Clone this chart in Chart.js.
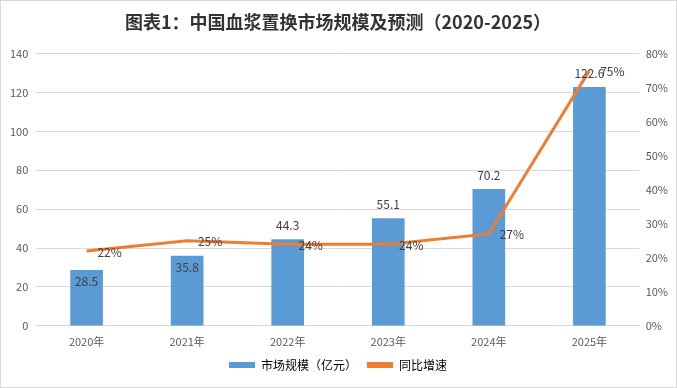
<!DOCTYPE html>
<html>
<head>
<meta charset="utf-8">
<script src="https://cdn.jsdelivr.net/npm/chart.js@4.4.0/dist/chart.umd.min.js"></script>
<style>
  html, body { margin: 0; padding: 0; background: #fff; }
  #wrap { width: 675px; height: 386px; border: 1px solid #d9d9d9; }
</style>
</head>
<body>
<div id="wrap"><canvas id="myChart" width="675" height="386"></canvas></div>
<script>
var years = ['2020年', '2021年', '2022年', '2023年', '2024年', '2025年'];
var marketSize = [28.5, 35.8, 44.3, 55.1, 70.2, 122.6];
var growthRate = [0.22, 0.25, 0.24, 0.24, 0.27, 0.75];
var growthLabels = ['22%', '25%', '24%', '24%', '27%', '75%'];

var fontFamily = '"Noto Sans CJK SC", "Noto Sans", sans-serif';

// label offsets (pixels) -- bars: first two inside the bar
var barLabelDy = [11, 11, -14, -14, -14, -14];

var labelPlugin = {
    id: 'labels',
    afterDatasetsDraw: function(chart) {
        var c = chart.ctx;
        c.save();
        c.font = '12px ' + fontFamily;
        c.fillStyle = '#404040';
        c.textAlign = 'center';
        c.textBaseline = 'middle';
        var bars = chart.getDatasetMeta(0).data;
        bars.forEach(function(b, i) {
            c.fillText(marketSize[i].toFixed(1), b.x, b.y + barLabelDy[i]);
        });
        var pts = chart.getDatasetMeta(1).data;
        pts.forEach(function(p, i) {
            c.fillText(growthLabels[i], p.x + 23, p.y + 1);
        });
        c.restore();
    }
};

var ctx = document.getElementById('myChart').getContext('2d');
var myChart = new Chart(ctx, {
    type: 'bar',
    data: {
        labels: years,
        datasets: [
            {
                label: '市场规模（亿元）',
                data: marketSize,
                backgroundColor: '#5b9bd5',
                borderWidth: 0,
                barThickness: 32,
                yAxisID: 'y',
                order: 2
            },
            {
                type: 'line',
                label: '同比增速',
                data: growthRate,
                borderColor: '#ed7d31',
                backgroundColor: '#ed7d31',
                borderWidth: 3,
                pointRadius: 0,
                tension: 0,
                fill: false,
                yAxisID: 'y1',
                order: 1
            }
        ]
    },
    options: {
        responsive: false,
        animation: false,
        layout: { padding: { left: 1, right: 2, top: 0, bottom: 6 } },
        plugins: {
            title: {
                display: true,
                text: '图表1：中国血浆置换市场规模及预测（2020-2025）',
                color: '#333333',
                font: { family: fontFamily, size: 18, weight: 'bold' },
                padding: { top: 10, bottom: 21 }
            },
            legend: {
                position: 'bottom',
                labels: {
                    color: '#595959',
                    font: { family: fontFamily, size: 12 },
                    boxWidth: 26,
                    boxHeight: 6,
                    padding: 10,
                    generateLabels: function(chart) {
                        return [
                            { text: '市场规模（亿元）', fillStyle: '#5b9bd5', strokeStyle: '#5b9bd5', lineWidth: 0, datasetIndex: 0 },
                            { text: '同比增速', fillStyle: '#ed7d31', strokeStyle: '#ed7d31', lineWidth: 0, datasetIndex: 1 }
                        ];
                    }
                }
            },
            tooltip: { enabled: false }
        },
        scales: {
            x: {
                grid: { display: false },
                border: { color: '#d9d9d9' },
                ticks: { color: '#595959', font: { family: fontFamily, size: 11 }, padding: 1 }
            },
            y: {
                position: 'left',
                min: 0,
                max: 140,
                ticks: { stepSize: 20, color: '#595959', font: { family: fontFamily, size: 11 }, padding: 8 },
                grid: { color: '#d9d9d9', drawTicks: false },
                border: { display: false }
            },
            y1: {
                position: 'right',
                min: 0,
                max: 0.8,
                ticks: {
                    stepSize: 0.1,
                    color: '#595959',
                    font: { family: fontFamily, size: 11 },
                    padding: 6,
                    callback: function(v) { return Math.round(v * 100) + '%'; }
                },
                grid: { display: false, drawTicks: false },
                border: { display: false }
            }
        }
    },
    plugins: [labelPlugin]
});
</script>
</body>
</html>
